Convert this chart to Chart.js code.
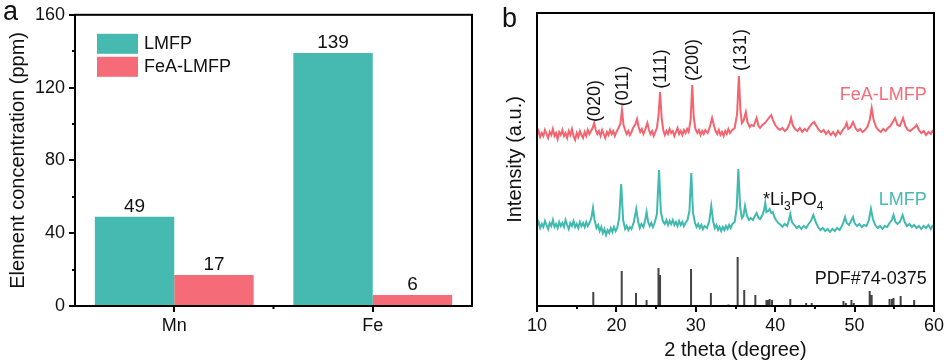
<!DOCTYPE html>
<html><head><meta charset="utf-8">
<script src="https://cdn.jsdelivr.net/npm/chart.js@4.4.0/dist/chart.umd.min.js"></script>
<style>
html,body{margin:0;padding:0;background:#fff;}
#wrap{position:relative;width:949px;height:364px;overflow:hidden;background:#fff;}
#chartA{position:absolute;left:0;top:0;}
#chartB{position:absolute;left:480px;top:0;}
</style></head><body>
<div id="wrap">
<canvas id="chartA" width="480" height="364"></canvas>
<canvas id="chartB" width="469" height="364"></canvas>
</div>
<script>
// ---------- data ----------
const elements = ['Mn', 'Fe'];
const seriesNames = ['LMFP', 'FeA-LMFP'];
const lmfpConc = [49, 139];
const feaConc = [17, 6];
const concTicks = [0, 40, 80, 120, 160];
const concMinorTicks = [20, 60, 100, 140];
const thetaTicks = [10, 20, 30, 40, 50, 60];
const thetaMinorTicks = [15, 25, 35, 45, 55];

// FeA-LMFP XRD pattern [2theta, intensity (a.u.)]
const feaPattern = [
[10.0,171],[10.2,175],[10.4,169],[10.6,173],[10.8,170],[11.0,176],[11.2,172],[11.4,168],[11.6,174],[11.8,171],
[12.0,177],[12.2,170],[12.4,173],[12.6,167],[12.8,174],[13.0,171],[13.2,176],[13.4,170],[13.6,173],[13.8,168],
[14.0,175],[14.2,171],[14.4,177],[14.6,170],[14.8,166],[15.0,173],[15.2,169],[15.4,175],[15.6,171],[15.8,168],
[16.0,174],[16.2,170],[16.4,176],[16.6,172],[16.8,175],[17.0,178],[17.2,183],[17.4,176],[17.6,172],[17.8,175],
[18.0,170],[18.2,176],[18.4,172],[18.6,168],[18.8,174],[19.0,171],[19.2,176],[19.4,172],[19.6,175],[19.8,170],
[20.0,174],[20.2,177],[20.5,182],[20.7,196],[20.9,181],[21.1,176],[21.3,172],[21.5,175],[21.7,171],[21.9,174],
[22.1,178],[22.4,182],[22.6,187],[22.8,179],[23.0,174],[23.2,177],[23.4,172],[23.6,176],[23.9,183],[24.1,176],
[24.3,172],[24.5,175],[24.7,170],[24.9,174],[25.1,178],[25.3,190],[25.5,214],[25.7,188],[25.9,176],[26.1,171],
[26.3,175],[26.5,172],[26.7,177],[26.9,173],[27.1,175],[27.3,170],[27.5,174],[27.7,178],[27.9,172],[28.1,175],
[28.3,171],[28.5,176],[28.7,173],[28.9,177],[29.1,174],[29.35,186],[29.55,221],[29.75,188],[29.95,177],[30.2,173],
[30.4,176],[30.6,171],[30.8,175],[31.0,172],[31.2,176],[31.5,173],[31.8,180],[32.05,188],[32.3,180],[32.5,175],
[32.7,172],[32.9,176],[33.1,171],[33.3,174],[33.5,170],[33.7,175],[33.9,172],[34.1,177],[34.3,173],[34.6,176],
[34.9,178],[35.2,192],[35.42,230],[35.62,196],[35.8,183],[36.0,185],[36.3,194],[36.5,184],[36.8,179],[37.0,181],
[37.3,180],[37.65,188],[37.9,180],[38.1,178],[38.4,181],[38.7,183],[39.0,186],[39.3,189],[39.5,191],[39.7,186],
[40.0,181],[40.3,178],[40.6,176],[40.9,178],[41.2,175],[41.5,177],[41.8,182],[42.0,188],[42.2,181],[42.5,177],
[42.8,175],[43.1,178],[43.4,174],[43.7,177],[44.0,175],[44.3,179],[44.6,182],[44.9,184],[45.2,180],[45.5,176],
[45.8,174],[46.1,176],[46.4,172],[46.7,175],[47.0,171],[47.3,174],[47.6,170],[47.9,175],[48.2,172],[48.5,176],
[48.8,179],[49.0,183],[49.2,177],[49.5,179],[49.8,184],[50.1,178],[50.4,175],[50.7,177],[51.0,174],[51.3,176],
[51.6,179],[51.9,186],[52.15,198],[52.4,186],[52.7,179],[53.0,176],[53.3,174],[53.6,177],[53.9,175],[54.2,178],
[54.5,180],[54.8,184],[55.1,188],[55.4,181],[55.7,180],[56.1,188],[56.4,180],[56.7,176],[57.0,175],[57.3,177],
[57.6,179],[57.8,181],[58.1,176],[58.4,173],[58.7,175],[59.0,171],[59.3,174],[59.6,172],[59.8,175],[60.0,173]
];

// LMFP XRD pattern [2theta, intensity (a.u.)]
const lmfpPattern = [
[10.0,80],[10.2,84],[10.4,78],[10.6,82],[10.8,79],[11.0,85],[11.2,81],[11.4,77],[11.6,83],[11.8,80],
[12.0,86],[12.2,79],[12.4,82],[12.6,78],[12.8,84],[13.0,80],[13.2,83],[13.4,79],[13.6,86],[13.8,81],
[14.0,77],[14.2,83],[14.4,80],[14.6,85],[14.8,79],[15.0,82],[15.2,78],[15.4,84],[15.6,80],[15.8,83],
[16.0,79],[16.2,84],[16.4,80],[16.6,83],[16.85,88],[17.05,98],[17.25,86],[17.5,78],[17.7,81],[17.9,75],
[18.1,79],[18.3,73],[18.5,77],[18.7,71],[18.9,76],[19.1,73],[19.3,78],[19.5,74],[19.7,79],[19.9,75],
[20.1,78],[20.35,88],[20.6,122],[20.85,86],[21.1,77],[21.3,80],[21.5,76],[21.7,79],[21.9,77],[22.2,84],
[22.5,97],[22.75,84],[22.95,78],[23.15,82],[23.4,79],[23.6,85],[23.8,94],[24.0,84],[24.2,80],[24.4,83],
[24.6,79],[24.85,84],[25.1,92],[25.37,136],[25.6,94],[25.85,85],[26.1,82],[26.3,86],[26.5,81],[26.7,85],
[26.9,82],[27.1,86],[27.3,81],[27.5,84],[27.7,80],[27.9,85],[28.1,81],[28.3,84],[28.5,80],[28.7,83],
[28.95,86],[29.2,95],[29.43,133],[29.65,93],[29.9,83],[30.1,79],[30.3,82],[30.5,78],[30.7,81],[30.9,77],
[31.1,80],[31.4,78],[31.7,85],[31.95,100],[32.2,84],[32.4,78],[32.6,81],[32.8,76],[33.0,79],[33.2,75],
[33.4,79],[33.6,76],[33.8,80],[34.0,77],[34.2,81],[34.4,78],[34.6,82],[34.9,84],[35.15,98],[35.36,137],
[35.58,99],[35.8,88],[36.0,90],[36.2,100],[36.45,90],[36.7,86],[36.9,88],[37.2,86],[37.45,90],[37.67,93],
[37.9,88],[38.1,87],[38.4,91],[38.6,96],[38.75,103],[38.9,94],[39.1,95],[39.3,97],[39.5,93],[39.7,94],
[39.9,89],[40.1,86],[40.4,83],[40.7,81],[40.9,79],[41.2,82],[41.5,80],[41.7,85],[41.9,92],[42.1,84],
[42.4,81],[42.7,78],[43.0,80],[43.3,77],[43.6,80],[43.9,78],[44.2,82],[44.5,85],[44.8,91],[45.1,84],
[45.4,79],[45.7,76],[46.0,78],[46.3,75],[46.6,77],[46.9,74],[47.2,77],[47.5,75],[47.8,78],[48.1,76],
[48.4,80],[48.6,84],[48.8,89],[49.0,83],[49.3,81],[49.55,85],[49.8,89],[50.0,83],[50.3,80],[50.6,82],
[50.9,79],[51.2,81],[51.5,80],[51.8,86],[52.06,97],[52.3,87],[52.6,81],[52.9,78],[53.2,80],[53.5,77],
[53.8,80],[54.1,79],[54.4,83],[54.7,86],[54.9,91],[55.15,84],[55.4,82],[55.7,84],[56.05,91],[56.3,84],
[56.6,80],[56.9,82],[57.2,79],[57.5,81],[57.8,78],[58.1,80],[58.4,77],[58.7,80],[59.0,78],[59.3,81],
[59.6,77],[59.8,80],[60.0,79]
];

// PDF#74-0375 reference lines
const pdfTheta = [17.09,20.67,22.47,23.8,25.3,25.5,29.4,31.9,34.1,35.27,36.1,37.5,38.9,39.1,39.3,39.6,41.9,43.9,44.6,45.6,48.6,48.9,49.6,49.9,51.9,52.15,54.4,54.7,54.9,55.8,56.8,57.5];
const pdfIntensity = [14,35,13,6,38,31,37,13,1.5,49,16,11,6,6,7,6,7,3,3,1,5,3,6,3,15,11,7,7,8,10,1,6];

const peakLabels = ['(020)', '(011)', '(111)', '(200)', '(131)'];

// ---------- styles ----------
const FONT = "'Liberation Sans', Arial, sans-serif";
const TEXT = '#111';
const TEAL = '#46B9B1';
const PINK = '#F66B78';
const TEAL_LINE = '#40B9AF';
const PINK_LINE = '#F5636F';
const STICK = '#444';

function tickGrid() {
  return {display: true, drawOnChartArea: false, drawTicks: true, tickLength: 6, tickWidth: 2, tickColor: '#000', lineWidth: 2, color: '#000'};
}

const framePlugin = {
  id: 'frame',
  afterDatasetsDraw(chart) {
    const a = chart.chartArea, ctx = chart.ctx;
    ctx.save();
    ctx.lineWidth = 2;
    ctx.strokeStyle = '#000';
    ctx.strokeRect(a.left, a.top, a.right - a.left, a.bottom - a.top);
    ctx.restore();
  }
};

// ---------- panel a ----------
const panelAPlugin = {
  id: 'panelA',
  afterDatasetsDraw(chart) {
    const ctx = chart.ctx, a = chart.chartArea;
    const ys = chart.scales.y, xs = chart.scales.x;
    ctx.save();
    ctx.strokeStyle = '#000'; ctx.lineWidth = 2;
    concMinorTicks.forEach(v => {
      const p = Math.round(ys.getPixelForValue(v));
      ctx.beginPath(); ctx.moveTo(a.left - 3, p); ctx.lineTo(a.left, p); ctx.stroke();
    });
    const mid = (xs.getPixelForValue(0) + xs.getPixelForValue(1)) / 2;
    ctx.beginPath(); ctx.moveTo(mid, a.bottom); ctx.lineTo(mid, a.bottom + 3); ctx.stroke();
    ctx.fillStyle = TEXT;
    ctx.font = '19px ' + FONT;
    ctx.textAlign = 'center';
    ctx.textBaseline = 'alphabetic';
    chart.data.datasets.forEach((ds, di) => {
      chart.getDatasetMeta(di).data.forEach((el, i) => {
        ctx.fillText(String(ds.data[i]), el.x, el.y - 5);
      });
    });
    ctx.font = '18px ' + FONT;
    ctx.textAlign = 'left';
    ctx.textBaseline = 'middle';
    chart.data.datasets.forEach((ds, di) => {
      const top = a.top + 19 + di * 23;
      ctx.fillStyle = ds.backgroundColor;
      ctx.fillRect(a.left + 22, top, 41, 20);
      ctx.fillStyle = TEXT;
      ctx.fillText(ds.label, a.left + 69, top + 10);
    });
    ctx.font = '27px ' + FONT;
    ctx.textBaseline = 'alphabetic';
    ctx.fillText('a', 3, 20);
    ctx.restore();
  }
};

new Chart(document.getElementById('chartA'), {
  type: 'bar',
  data: {
    labels: elements,
    datasets: [
      {label: seriesNames[0], data: lmfpConc, backgroundColor: TEAL, borderWidth: 0, categoryPercentage: 0.8, barPercentage: 1.0},
      {label: seriesNames[1], data: feaConc, backgroundColor: PINK, borderWidth: 0, categoryPercentage: 0.8, barPercentage: 1.0}
    ]
  },
  options: {
    responsive: false,
    animation: false,
    layout: {padding: {left: 0, top: 14, right: 8, bottom: 0}},
    plugins: {legend: {display: false}, tooltip: {enabled: false}},
    scales: {
      x: {
        offset: true,
        grid: Object.assign(tickGrid(), {offset: false}),
        border: {display: false},
        ticks: {font: {family: FONT, size: 18}, color: TEXT, padding: 3, maxRotation: 0},
        afterFit(s) { s.height = 58; }
      },
      y: {
        min: 0, max: 160,
        afterBuildTicks(s) { s.ticks = concTicks.map(v => ({value: v})); },
        grid: tickGrid(),
        border: {display: false},
        ticks: {font: {family: FONT, size: 18}, color: TEXT, padding: 4},
        title: {display: true, text: 'Element concentration (ppm)', font: {family: FONT, size: 20}, color: TEXT, padding: {top: 6, bottom: 0}},
        afterFit(s) { s.width = 75; }
      }
    }
  },
  plugins: [framePlugin, panelAPlugin]
});

// ---------- panel b ----------
const toXY = arr => arr.map(p => ({x: p[0], y: p[1]}));
const stickData = pdfTheta.flatMap((t, i) => [{x: t, y: 0}, {x: t, y: pdfIntensity[i]}, {x: t, y: null}]);

const peakLabelPos = [[17.3, 205], [20.83, 220], [25.6, 237], [29.65, 246], [35.7, 256]];

const panelBPlugin = {
  id: 'panelB',
  afterDatasetsDraw(chart) {
    const ctx = chart.ctx, a = chart.chartArea;
    const xs = chart.scales.x, ys = chart.scales.y;
    ctx.save();
    ctx.strokeStyle = '#000'; ctx.lineWidth = 2;
    thetaMinorTicks.forEach(v => {
      const p = Math.round(xs.getPixelForValue(v));
      ctx.beginPath(); ctx.moveTo(p, a.bottom); ctx.lineTo(p, a.bottom + 3); ctx.stroke();
    });
    ctx.font = '18px ' + FONT;
    ctx.fillStyle = TEXT;
    ctx.textAlign = 'center';
    ctx.textBaseline = 'middle';
    peakLabels.forEach((t, i) => {
      const px = xs.getPixelForValue(peakLabelPos[i][0]);
      const py = ys.getPixelForValue(peakLabelPos[i][1]);
      ctx.save(); ctx.translate(px, py); ctx.rotate(-Math.PI / 2); ctx.fillText(t, 0, 0); ctx.restore();
    });
    ctx.textAlign = 'right';
    ctx.fillStyle = PINK;
    ctx.fillText(seriesNames[1], xs.getPixelForValue(59.1), ys.getPixelForValue(211));
    ctx.fillStyle = TEAL;
    ctx.fillText(seriesNames[0], xs.getPixelForValue(59.1), ys.getPixelForValue(106));
    ctx.fillStyle = TEXT;
    ctx.fillText('PDF#74-0375', xs.getPixelForValue(59.1), ys.getPixelForValue(27));
    ctx.textAlign = 'left';
    ctx.textBaseline = 'alphabetic';
    let x = xs.getPixelForValue(38.46);
    const base = ys.getPixelForValue(108) + 6.5;
    const parts = [['*Li', 18, 0], ['3', 12, 5], ['PO', 18, 0], ['4', 12, 5]];
    parts.forEach(([t, sz, dy]) => {
      ctx.font = sz + 'px ' + FONT;
      ctx.fillText(t, x, base + dy);
      x += ctx.measureText(t).width;
    });
    ctx.font = '27px ' + FONT;
    ctx.fillText('b', 22, 27);
    ctx.restore();
  }
};

new Chart(document.getElementById('chartB'), {
  type: 'line',
  data: {
    datasets: [
      {label: seriesNames[1], data: toXY(feaPattern), borderColor: PINK_LINE, borderWidth: 2, pointRadius: 0, tension: 0},
      {label: seriesNames[0], data: toXY(lmfpPattern), borderColor: TEAL_LINE, borderWidth: 2, pointRadius: 0, tension: 0},
      {label: 'PDF#74-0375', data: stickData, borderColor: STICK, borderWidth: 2, pointRadius: 0, spanGaps: false, tension: 0}
    ]
  },
  options: {
    responsive: false,
    animation: false,
    layout: {padding: {left: 0, top: 13, right: 15, bottom: 0}},
    plugins: {legend: {display: false}, tooltip: {enabled: false}},
    scales: {
      x: {
        type: 'linear', min: 10, max: 60,
        afterBuildTicks(s) { s.ticks = thetaTicks.map(v => ({value: v})); },
        grid: tickGrid(),
        border: {display: false},
        ticks: {font: {family: FONT, size: 18}, color: TEXT, padding: 3, maxRotation: 0},
        title: {display: true, text: '2 theta (degree)', font: {family: FONT, size: 20}, color: TEXT, padding: {top: 0, bottom: 2}},
        afterFit(s) { s.height = 58; }
      },
      y: {
        min: 0, max: 293,
        ticks: {display: false},
        grid: {display: false, drawTicks: false},
        border: {display: false},
        title: {display: true, text: 'Intensity (a.u.)', font: {family: FONT, size: 20}, color: TEXT, padding: {top: 23, bottom: 0}},
        afterFit(s) { s.width = 57; }
      }
    }
  },
  plugins: [framePlugin, panelBPlugin]
});
</script>
</body></html>
